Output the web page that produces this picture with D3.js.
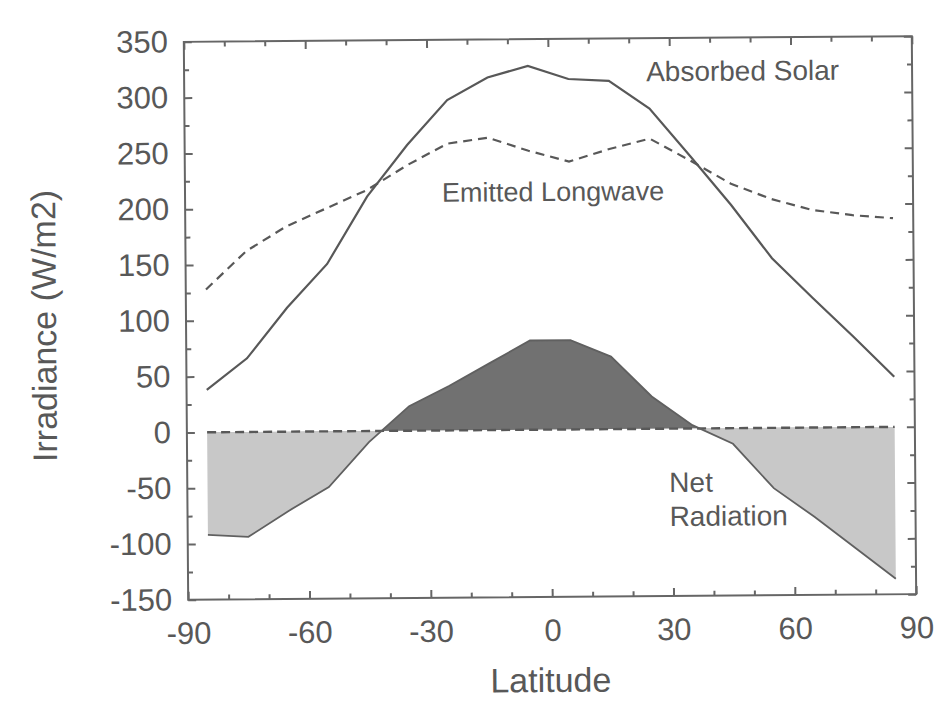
<!DOCTYPE html>
<html>
<head>
<meta charset="utf-8">
<script src="https://cdn.jsdelivr.net/npm/d3@7/dist/d3.min.js"></script>
<style>
  html, body { margin: 0; padding: 0; background: #fff; }
  svg { display: block; }
  text { font-family: "Liberation Sans", Arial, Helvetica, sans-serif; fill: #585858; }
</style>
</head>
<body>
<svg id="chart" width="935" height="705"></svg>
<script>
// ---- data ----
const latitudes       = [-85, -75, -65, -55, -45, -35, -25, -15, -5, 5, 15, 25, 35, 45, 55, 65, 75, 85];
const absorbedSolar   = [38, 66, 111, 150, 210, 256, 296, 316, 326, 314, 312, 287, 244, 200, 152, 116, 81, 45];
const emittedLongwave = [128, 162, 184, 200, 216, 238, 257, 262, 250, 240, 251, 260, 240, 219, 205, 195, 190, 187];
const netRadiation    = [-92, -94, -71, -50, -10, 22, 40, 60, 80, 80, 65, 29, 3, -14, -54, -80, -108, -136];
const yTicks      = [-150, -100, -50, 0, 50, 100, 150, 200, 250, 300, 350];
const yMinorTicks = [-125, -75, -25, 25, 75, 125, 175, 225, 275, 325];
const xTicks      = [-90, -60, -30, 0, 30, 60, 90];
const xMinorTicks = [-80, -70, -50, -40, -20, -10, 10, 20, 40, 50, 70, 80];
const labels = {
  x: "Latitude",
  y: "Irradiance (W/m2)",
  solar: "Absorbed Solar",
  longwave: "Emitted Longwave",
  net1: "Net",
  net2: "Radiation"
};

// ---- chart ----
const svg = d3.select("#chart");
const x = d3.scaleLinear().domain([-90, 90]).range([186, 914]);
const y = d3.scaleLinear().domain([-150, 350]).range([597, 39]);

const g = svg.append("g").attr("transform", "rotate(-0.45, 550, 318)");

const ink = "#585858";
const pts = latitudes.map((lat, i) => ({lat, s: absorbedSolar[i], l: emittedLongwave[i], n: netRadiation[i]}));

// clip paths for positive / negative net fill
const defs = svg.append("defs");
defs.append("clipPath").attr("id", "clipPos").append("rect")
  .attr("x", x(-90)).attr("y", y(350)).attr("width", x(90) - x(-90)).attr("height", y(0) - y(350));
defs.append("clipPath").attr("id", "clipNeg").append("rect")
  .attr("x", x(-90)).attr("y", y(0)).attr("width", x(90) - x(-90)).attr("height", y(-150) - y(0));

const netArea = d3.area().x(d => x(d.lat)).y0(y(0)).y1(d => y(d.n));
g.append("path").datum(pts).attr("d", netArea)
  .attr("fill", "#c8c8c8").attr("clip-path", "url(#clipNeg)");
g.append("path").datum(pts).attr("d", netArea)
  .attr("fill", "#717171").attr("clip-path", "url(#clipPos)");

// zero dashed line
g.append("path").datum([latitudes[0], latitudes[latitudes.length - 1]])
  .attr("d", d3.line().x(d => x(d)).y(() => y(0)))
  .attr("fill", "none").attr("stroke", ink).attr("stroke-width", 2.4).attr("stroke-dasharray", "9,5");

// net line
g.append("path").datum(pts)
  .attr("d", d3.line().x(d => x(d.lat)).y(d => y(d.n)))
  .attr("fill", "none").attr("stroke", "#606060").attr("stroke-width", 1.8);

// absorbed solar
g.append("path").datum(pts)
  .attr("d", d3.line().x(d => x(d.lat)).y(d => y(d.s)))
  .attr("fill", "none").attr("stroke", ink).attr("stroke-width", 2.2);

// emitted longwave
g.append("path").datum(pts)
  .attr("d", d3.line().x(d => x(d.lat)).y(d => y(d.l)))
  .attr("fill", "none").attr("stroke", ink).attr("stroke-width", 2.2).attr("stroke-dasharray", "9,6");

// frame
g.append("rect").attr("x", x(-90)).attr("y", y(350))
  .attr("width", x(90) - x(-90)).attr("height", y(-150) - y(350))
  .attr("fill", "none").attr("stroke", "#666").attr("stroke-width", 2);

function styleAxis(sel) {
  sel.select(".domain").remove();
  sel.selectAll(".tick line").attr("stroke", "#666").attr("stroke-width", 2);
  sel.selectAll(".tick text").attr("fill", ink).style("font-size", "31px")
    .style("font-family", '"Liberation Sans", Arial, sans-serif');
}
const fmt = d => String(d);

// left axis
g.append("g").attr("transform", `translate(${x(-90)},0)`)
  .call(d3.axisLeft(y).tickValues(yTicks).tickSize(-8).tickPadding(16).tickFormat(fmt))
  .call(styleAxis);
g.append("g").attr("transform", `translate(${x(-90)},0)`)
  .call(d3.axisLeft(y).tickValues(yMinorTicks).tickSize(-5).tickFormat(""))
  .call(styleAxis);
// right axis
g.append("g").attr("transform", `translate(${x(90)},0)`)
  .call(d3.axisRight(y).tickValues(yTicks).tickSize(-8).tickFormat(""))
  .call(styleAxis);
g.append("g").attr("transform", `translate(${x(90)},0)`)
  .call(d3.axisRight(y).tickValues(yMinorTicks).tickSize(-5).tickFormat(""))
  .call(styleAxis);
// bottom axis
g.append("g").attr("transform", `translate(0,${y(-150)})`)
  .call(d3.axisBottom(x).tickValues(xTicks).tickSize(-8).tickPadding(22).tickFormat(fmt))
  .call(styleAxis);
g.append("g").attr("transform", `translate(0,${y(-150)})`)
  .call(d3.axisBottom(x).tickValues(xMinorTicks).tickSize(-5).tickFormat(""))
  .call(styleAxis);
// top axis
g.append("g").attr("transform", `translate(0,${y(350)})`)
  .call(d3.axisTop(x).tickValues(xTicks).tickSize(-8).tickFormat(""))
  .call(styleAxis);
g.append("g").attr("transform", `translate(0,${y(350)})`)
  .call(d3.axisTop(x).tickValues(xMinorTicks).tickSize(-5).tickFormat(""))
  .call(styleAxis);

// axis titles
g.append("text").attr("x", (x(-90) + x(90)) / 2 - 2).attr("y", 692)
  .attr("text-anchor", "middle").style("font-size", "34px").text(labels.x);
g.append("text").attr("transform", `translate(56,${(y(-150) + y(350)) / 2 + 4}) rotate(-90)`)
  .attr("text-anchor", "middle").style("font-size", "34px").text(labels.y);

// annotations
g.append("text").attr("x", 648).attr("y", 82).style("font-size", "28px").text(labels.solar);
g.append("text").attr("x", 443).attr("y", 201).style("font-size", "27px").text(labels.longwave);
g.append("text").attr("x", 668).attr("y", 493).style("font-size", "28px").text(labels.net1);
g.append("text").attr("x", 668).attr("y", 527).style("font-size", "28px").text(labels.net2);
</script>
</body>
</html>
